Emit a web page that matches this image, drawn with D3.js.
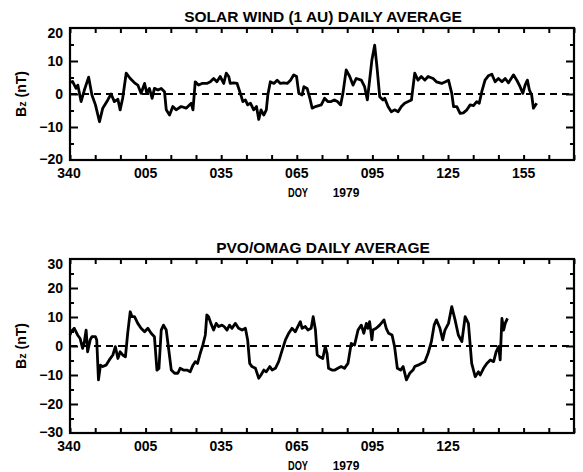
<!DOCTYPE html>
<html><head><meta charset="utf-8">
<script src="https://cdn.jsdelivr.net/npm/d3@7"></script>
<style>
body{margin:0;background:#fff;}
svg{display:block;}
text{font-family:"Liberation Sans",Arial,Helvetica,sans-serif;font-weight:bold;fill:#000;}
</style></head>
<body>
<script>
// days counted from DOY 340 of 1978
const swDay = [0,1,2.4,3.1,4.4,5.7,7.4,8.7,10.1,11.7,13,15,16.3,17.6,19,19.9,20.9,22.3,23.9,25.6,26.9,28.2,29.6,30.5,31.5,32.6,33.5,34.9,36.2,37.5,38.2,39.5,40.8,42.1,44.1,46.1,48.1,48.8,49.7,51,52.4,54.3,55.7,57,58.3,59.6,61,62,63,63.6,65,66.3,67.6,68.6,69.6,70.5,71.6,72.9,74,74.9,75.8,76.9,77.9,78.5,79.5,80.9,82.2,83.5,84.8,86.2,87.5,88.8,89.9,90.8,92.1,92.8,94.1,95.2,96.1,97.4,99.7,101,102.3,103.6,104.9,106.1,107.4,108.3,109.6,111,112.3,113.6,115.6,116.9,118,118.9,119.8,120.9,121.8,122.9,124.2,124.9,126.2,127.5,128.8,130.2,131.5,132.8,134.2,135.5,136.8,138.1,139.4,140.8,142.1,144.1,145.4,147.5,149,150.2,151.5,152.2,153.5,154.8,156.1,157.5,158.8,160.1,161.4,162.4,163.4,164.7,166,167.4,168.7,170,171.4,172.7,174,176,177.3,178.6,179.7,180.6,181.5,182.3,183.2,183.9,185.2];
const swBz  = [3.5,3.8,1.7,2.7,-2.3,1.2,5.1,-0.3,-3.3,-8.4,-4.3,-1.8,0,-2.3,-1.6,-4.8,-1.3,6.3,4.7,3.4,2.7,0.2,3.2,0.2,1.7,-1.3,1.7,1.2,1.7,0.7,-4.8,-6.4,-3.8,-4.8,-3.8,-4.3,-2.8,-4.8,3.7,2.7,3.2,3.2,3.7,4.7,3.7,5.3,3.2,6.3,5.3,3.2,3.4,3.2,0.2,-2.3,-1.8,-3.3,-2.8,-4.8,-3.8,-7.7,-4.8,-6.4,-4.8,-0.3,3.7,3.2,4.2,3.2,3.4,3.2,4.2,5.8,5.3,0.2,-0.3,2.2,1.7,-1.3,-4.3,-3.8,-3.3,-1.3,-2.3,-2.3,-1.8,-2.3,-3.3,0.2,7.3,5.3,2.7,4.7,4.2,2.2,-1.8,4.2,10.3,14.8,8.3,-0.8,-1.8,-1.3,-3.8,-5.4,-4.8,-5.4,-3.8,-2.8,-2.3,-1.8,6.3,4.2,5.3,4.2,5.3,4.7,3.7,3.2,3.7,4.2,0.2,-3.8,-3.8,-5.9,-5.7,-4.8,-3.3,-3.5,-2.3,-2.8,0.7,4.2,5.5,6,3.7,4.7,3.7,4.7,3.4,5.8,4.2,2.2,0.2,2.7,4.2,1.2,-0.3,-4.3,-2.8];

const pvDay = [0,0.4,1.7,3,4,5,5.7,6.4,7,8,8.7,10.1,10.6,11.3,12.1,13,14.3,15.6,17,18,19,19.9,20.9,22,22.9,23.9,24.6,25.6,26.9,28.2,29.6,30.9,32.2,33.5,34.5,35.3,36.2,37.1,38.2,39.2,40.2,41.5,42.8,43.7,45,46.4,47.7,48.8,49.7,50.6,51.7,52.7,53.7,54.3,55,55.9,57,58,59,60.3,61.2,62.3,63.3,64.3,65.6,66.9,68.3,69.6,70.5,71.3,72.2,73.6,74.9,75.8,76.9,77.9,79.3,80.2,81.5,82.8,84.2,85.5,86.8,88.1,89.4,90.4,91.4,92.1,93.4,94.4,95.7,96.5,97.4,98.1,99,100.3,101.3,102,102.6,103.9,105.1,106.3,107.6,108.9,110.3,111.6,112.9,114.3,115.6,116.6,117.6,118.2,118.9,119.8,120.2,121.5,122.9,124.6,125.5,126.4,127.8,128.8,129.9,131.2,132.2,133.5,134.8,136.1,136.8,138.1,139.4,140.8,142.1,143.4,144.5,145.4,146.8,147.9,148.8,150.2,151.5,152.8,154.1,155.5,156.8,158.1,159.4,160.8,162.1,162.8,164.1,165.4,166.8,168.1,169.1,170.1,170.7,171.4,172.1,172.7,173.6];
const pvBz  = [3.8,4.9,6.1,3.8,2.6,-0.8,1.5,5.5,-2,2.1,3.2,3.2,2.1,-11.7,-6.6,-7.1,-6.6,-4.8,-3.1,-0.2,-4.3,-2,-3.1,-3.7,4.4,11.8,10.1,10.1,7.8,6.1,4.9,6.1,4.4,3.2,-8.3,-7.7,5.5,7.2,5.5,-1.4,-8.3,-9.4,-9.4,-7.7,-8.3,-8.3,-8.9,-6.6,-5.4,-6,-2.5,0.3,3.8,10.7,10.1,7.8,5.5,7.8,6.7,7.2,6.7,5.5,7.2,6.1,7.8,6.1,5.5,6.1,2.1,-6,-7.1,-7.7,-11.1,-10,-8.3,-8.9,-7.1,-8.3,-7.7,-5.4,-1.4,2.1,4.4,6.1,4.9,6.7,8.4,6.1,6.7,5.5,6.1,10.1,5.5,-3.1,-3.7,-4.3,-0.2,-2.5,-7.7,-8.3,-8.3,-7.7,-7.1,-7.7,-6,0.9,0.3,5.5,7.2,4.4,7.8,6.1,8.4,2.1,5.5,6.1,7.2,9,6.1,4.4,3.8,-0.2,-7.7,-8.3,-7.1,-11.7,-9.4,-8.3,-7.1,-6.6,-6,-5.4,-2.5,1.5,7.2,9,6.1,2.1,5.5,7.8,13.6,9,3.8,1.5,10.1,7.8,-6,-10.6,-8.9,-10,-7.7,-6,-4.8,-5.4,-2,-0.2,-4.8,9.5,5.5,7.8,9.5];

const xTickDays = [0,30,60,90,120,150,180];
const xTickLabels = ["340","005","035","065","095","125","155"];
const xTickLabelsBottom = ["340","005","035","065","095","125"];
const swYTicks = [-20,-10,0,10,20];
const pvYTicks = [-30,-20,-10,0,10,20,30];
const titles = ["SOLAR WIND (1 AU) DAILY AVERAGE","PVO/OMAG DAILY AVERAGE"];
const xLabelA = "DOY", xLabelB = "1979";

const W = 583, H = 472;
const svg = d3.select("body").append("svg").attr("width", W).attr("height", H);

function panel(cfg) {
  const x = d3.scaleLinear().domain([0, 200]).range([70, 574]);
  const y = d3.scaleLinear().domain(cfg.yDomain).range([cfg.bottom, cfg.top]);
  const g = svg.append("g");

  g.append("line").attr("x1", x(0)).attr("x2", x(200)).attr("y1", y(0)).attr("y2", y(0))
    .attr("stroke", "#000").attr("stroke-width", 2).attr("stroke-dasharray", "7,5");

  const line = d3.line().x((d) => x(d[0])).y((d) => y(d[1])).curve(d3.curveLinear);
  g.append("path").datum(cfg.days.map((d, i) => [d, cfg.vals[i]]))
    .attr("d", line).attr("fill", "none").attr("stroke", "#000")
    .attr("stroke-width", 2.8).attr("stroke-linejoin", "round");

  g.append("rect").attr("x", x(0)).attr("y", cfg.top).attr("width", x(200) - x(0))
    .attr("height", cfg.bottom - cfg.top).attr("fill", "none").attr("stroke", "#000").attr("stroke-width", 2.2);

  const xt = d3.range(0, 201, 10);
  const xb = d3.axisBottom(x).tickValues(xt).tickSizeInner(-5).tickSizeOuter(0).tickFormat("");
  const xtp = d3.axisTop(x).tickValues(xt).tickSizeInner(-5).tickSizeOuter(0).tickFormat("");
  const gb = g.append("g").attr("transform", `translate(0,${cfg.bottom})`).call(xb);
  const gt = g.append("g").attr("transform", `translate(0,${cfg.top})`).call(xtp);
  [gb, gt].forEach((a) => { a.select(".domain").remove(); a.selectAll("line").attr("stroke-width", 2); });

  const step = cfg.yTicks[1] - cfg.yTicks[0];
  const minor = d3.range(cfg.yDomain[0] + step / 2, cfg.yDomain[1], step);
  const inner = cfg.yTicks.filter((v) => v > cfg.yDomain[0] && v < cfg.yDomain[1]);
  [[d3.axisLeft, x(0)], [d3.axisRight, x(200)]].forEach(([ax, px]) => {
    const a1 = g.append("g").attr("transform", `translate(${px},0)`)
      .call(ax(y).tickValues(inner).tickSizeInner(-8).tickSizeOuter(0).tickFormat(""));
    const a2 = g.append("g").attr("transform", `translate(${px},0)`)
      .call(ax(y).tickValues(minor).tickSizeInner(-4).tickSizeOuter(0).tickFormat(""));
    [a1, a2].forEach((a) => { a.select(".domain").remove(); a.selectAll("line").attr("stroke-width", 2); });
  });

  g.selectAll(".yl").data(cfg.yTicks).enter().append("text")
    .attr("x", x(0) - 7)
    .attr("y", (v) => Math.min(Math.max(y(v), cfg.top + 5), cfg.bottom - 1.5))
    .attr("dy", "0.36em").attr("text-anchor", "end").attr("font-size", 14)
    .text((v) => (v < 0 ? "\u2212" + Math.abs(v) : v));

  g.selectAll(".xl").data(cfg.xLabels).enter().append("text")
    .attr("x", (t, i) => x(xTickDays[i]) + (i === 0 ? -1 : 0))
    .attr("y", cfg.bottom + 18).attr("text-anchor", "middle").attr("font-size", 14)
    .text((t) => t);

  g.append("text").attr("x", (x(0) + x(200)) / 2 + 1).attr("y", cfg.top - 6)
    .attr("text-anchor", "middle").attr("font-size", 15.5).text(cfg.title);

  g.append("text").attr("x", 298).attr("y", cfg.bottom + 37).attr("text-anchor", "middle")
    .attr("font-size", 12).attr("textLength", 20).attr("lengthAdjust", "spacingAndGlyphs").text(xLabelA);
  g.append("text").attr("x", 346).attr("y", cfg.bottom + 37).attr("text-anchor", "middle")
    .attr("font-size", 12).text(xLabelB);

  const cy = (cfg.top + cfg.bottom) / 2;
  const yl = g.append("text").attr("transform", `translate(26,${cy}) rotate(-90)`)
    .attr("text-anchor", "middle").attr("font-size", 14);
  yl.append("tspan").text("B");
  yl.append("tspan").attr("font-size", 11).text("z");
  yl.append("tspan").text(" (nT)");
}

panel({ top: 28, bottom: 160, yDomain: [-20, 20], yTicks: swYTicks, days: swDay, vals: swBz,
        xLabels: xTickLabels, title: titles[0] });
panel({ top: 259, bottom: 433, yDomain: [-30, 30], yTicks: pvYTicks, days: pvDay, vals: pvBz,
        xLabels: xTickLabelsBottom, title: titles[1] });
</script>
</body></html>
